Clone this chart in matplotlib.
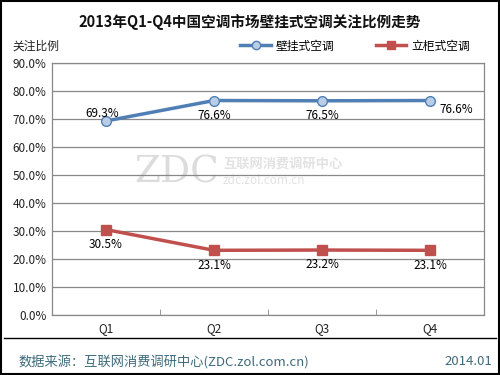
import matplotlib.pyplot as plt
from matplotlib.patches import Rectangle
from matplotlib.lines import Line2D

plt.rcParams['font.family'] = ['Noto Sans CJK SC', 'DejaVu Sans']

quarters = ['Q1', 'Q2', 'Q3', 'Q4']
wall = [69.3, 76.6, 76.5, 76.6]      # 壁挂式空调
floor = [30.5, 23.1, 23.2, 23.1]     # 立柜式空调
yticks = [0, 10, 20, 30, 40, 50, 60, 70, 80, 90]

blue = '#4f7fb5'
red = '#c0504d'

fig = plt.figure(figsize=(5, 3.75), dpi=100)
fig.patch.set_facecolor('white')

# outer frame
fig.patches.append(Rectangle((0.002, 0.002), 0.996, 0.996, transform=fig.transFigure,
                             fill=False, edgecolor='black', linewidth=1.5))

ax = fig.add_axes([0.104, 0.16, 0.864, 0.672])
x = range(len(quarters))
ax.plot(x, wall, color=blue, linewidth=2.5, marker='o', markersize=7,
        markerfacecolor='#b9cde5', markeredgecolor=blue, markeredgewidth=1, zorder=3)
ax.plot(x, floor, color=red, linewidth=2.5, marker='s', markersize=7,
        markerfacecolor=red, markeredgecolor=red, zorder=3)

ax.set_xlim(-0.5, 3.5)
ax.set_ylim(0, 90)
ax.set_yticks(yticks)
ax.set_yticklabels(['%.1f%%' % v for v in yticks], fontsize=8.5, color='#222222')
ax.set_xticks(x)
ax.set_xticklabels(quarters, fontsize=8.5, color='#222222')
ax.set_xticks([0.5, 1.5, 2.5], minor=True)
ax.tick_params(axis='y', length=0, pad=4)
ax.tick_params(axis='x', which='major', length=0, pad=5)
ax.tick_params(axis='x', which='minor', length=4, direction='in', color='#888888')
ax.grid(axis='y', color='#888888', linewidth=0.9)
ax.set_axisbelow(True)
for s in ax.spines.values():
    s.set_color('#888888')
    s.set_linewidth(0.9)

# data labels
ax.annotate('%.1f%%' % wall[0], (0, wall[0]), xytext=(-3, 1), textcoords='offset points',
            ha='center', va='bottom', fontsize=8.5)
for i in (1, 2):
    ax.annotate('%.1f%%' % wall[i], (i, wall[i]), xytext=(0, -6), textcoords='offset points',
                ha='center', va='top', fontsize=8.5)
ax.annotate('%.1f%%' % wall[3], (3, wall[3]), xytext=(7, -2), textcoords='offset points',
            ha='left', va='top', fontsize=8.5)
for i, v in enumerate(floor):
    ax.annotate('%.1f%%' % v, (i, v), xytext=(0, -6), textcoords='offset points',
                ha='center', va='top', fontsize=8.5)

# watermark
ax.text(0.19, 0.567, 'ZDC', transform=ax.transAxes, fontsize=27, color='#dcdcdc',
        family='DejaVu Serif', ha='left', va='center', zorder=0)
ax.text(0.396, 0.6, '互联网消费调研中心', transform=ax.transAxes, fontsize=9.5,
        color='#e2e2e2', fontweight='bold', ha='left', va='center', zorder=0)
ax.text(0.396, 0.535, 'zdc.zol.com.cn', transform=ax.transAxes, fontsize=8.5,
        color='#e2e2e2', ha='left', va='center', zorder=0)

# title and axis caption
fig.text(0.5, 0.94, '2013年Q1-Q4中国空调市场壁挂式空调关注比例走势', ha='center', va='center',
         fontsize=10.5, fontweight='bold', color='#111111')
fig.text(0.024, 0.877, '关注比例', ha='left', va='center', fontsize=8.5, color='#222222')

# legend
handles = [Line2D([], [], color=blue, linewidth=2.5, marker='o', markersize=6,
                  markerfacecolor='#b9cde5', markeredgecolor=blue),
           Line2D([], [], color=red, linewidth=2.5, marker='s', markersize=6,
                  markerfacecolor=red, markeredgecolor=red)]
fig.legend(handles, ['壁挂式空调', '立柜式空调'], loc='center', bbox_to_anchor=(0.71, 0.877),
           ncol=2, frameon=False, fontsize=8.5, handlelength=2.6, columnspacing=3.5,
           handletextpad=0.4)

# footer
fig.add_artist(Line2D([0.008, 0.992], [0.098, 0.098], transform=fig.transFigure,
                      color='black', linewidth=1))
fig.text(0.036, 0.035, '数据来源：互联网消费调研中心(ZDC.zol.com.cn)', ha='left', va='center',
         fontsize=9.5, color='#3d6b7d')
fig.text(0.984, 0.035, '2014.01', ha='right', va='center', fontsize=9.5, color='#3d6b7d')

fig.savefig('out.png', dpi=100)
